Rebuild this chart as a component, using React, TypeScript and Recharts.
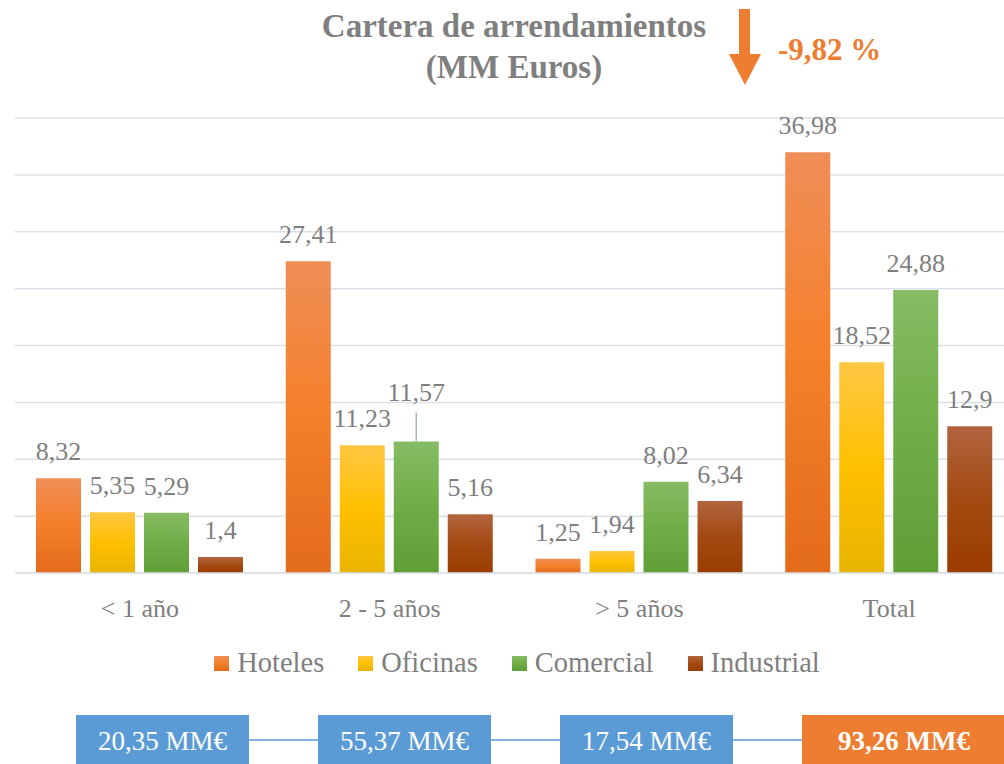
import React from 'react';
import { BarChart, Bar, XAxis, YAxis, CartesianGrid, Legend, LabelList } from 'recharts';

const FONT = "'Liberation Serif', serif";
const GREY = '#7F7F7F';

const categories = ['< 1 año', '2 - 5 años', '> 5 años', 'Total'];
const hoteles = [8.32, 27.41, 1.25, 36.98];
const oficinas = [5.35, 11.23, 1.94, 18.52];
const comercial = [5.29, 11.57, 8.02, 24.88];
const industrial = [1.4, 5.16, 6.34, 12.9];
const yTicks = [0, 5, 10, 15, 20, 25, 30, 35, 40];
const boxTotals = ['20,35 MM€', '55,37 MM€', '17,54 MM€', '93,26 MM€'];
const variation = '-9,82 %';

const series = [
  { key: 'Hoteles', values: hoteles, stops: ['#EF8E57', '#F57F29', '#E36B1C'] },
  { key: 'Oficinas', values: oficinas, stops: ['#FFC743', '#FFC000', '#E8B400'] },
  { key: 'Comercial', values: comercial, stops: ['#86BC64', '#70AD47', '#5F9F36'] },
  { key: 'Industrial', values: industrial, stops: ['#B2643F', '#A34A12', '#9B3C00'] },
];

const data = categories.map((name, i) => {
  const row: any = { name };
  series.forEach((s) => { row[s.key] = s.values[i]; });
  return row;
});

const fmt = (v: number) => String(v).replace('.', ',');

const makeLabel = (key: string) => (p: any) => {
  const vb = p.viewBox ?? p;
  const x = vb.x ?? p.x;
  const y = vb.y ?? p.y;
  const w = vb.width ?? p.width;
  const cx = x + w / 2;
  const raised = key === 'Comercial' && p.index === 1;
  return (
    <g>
      {raised && <line x1={cx} x2={cx} y1={y - 29} y2={y} stroke="#A9B6C6" strokeWidth={1.5} />}
      <text x={cx} y={raised ? y - 40 : y - 18} textAnchor="middle" fill={GREY} fontSize={26} fontFamily={FONT}>
        {fmt(p.value)}
      </text>
    </g>
  );
};

const renderLegend = () => (
  <div style={{ display: 'flex', justifyContent: 'center', alignItems: 'center', gap: 34, fontFamily: FONT }}>
    {series.map((s) => (
      <div key={s.key} style={{ display: 'flex', alignItems: 'center' }}>
        <span style={{ width: 15, height: 15, marginRight: 8, background: `linear-gradient(${s.stops[0]}, ${s.stops[1]}, ${s.stops[2]})` }} />
        <span style={{ fontSize: 28.5, lineHeight: '30px', color: GREY }}>{s.key}</span>
      </div>
    ))}
  </div>
);

export default function App() {
  const boxLeft = (i: number) => 76 + i * 242;
  return (
    <div style={{ position: 'fixed', left: 0, top: 0, width: 1004, height: 764, overflow: 'hidden', background: '#fff' }}>
      <div style={{ position: 'absolute', left: 0, top: 0 }}>
        <BarChart width={1040} height={700} data={data} margin={{ top: 118, right: 26, left: 15, bottom: 67 }} barGap={9} barSize={45}>
          <defs>
            {series.map((s) => (
              <linearGradient key={s.key} id={`grad${s.key}`} x1="0" y1="0" x2="0" y2="1">
                <stop offset="0%" stopColor={s.stops[0]} />
                <stop offset="50%" stopColor={s.stops[1]} />
                <stop offset="100%" stopColor={s.stops[2]} />
              </linearGradient>
            ))}
          </defs>
          <CartesianGrid vertical={false} stroke="#DCE0E6" strokeWidth={1.5} />
          <XAxis
            dataKey="name"
            height={60}
            axisLine={{ stroke: '#DCE0E6', strokeWidth: 1.5 }}
            tickLine={false}
            tickSize={0}
            tickMargin={0}
            interval={0}
            tick={(p: any) => (
              <text x={p.x} y={p.y + 44} textAnchor="middle" fill={GREY} fontSize={26} fontFamily={FONT}>
                {p.payload.value}
              </text>
            )}
          />
          <YAxis hide domain={[0, 40]} ticks={yTicks} />
          <Legend
            layout="horizontal"
            verticalAlign="middle"
            align="center"
            content={renderLegend}
            wrapperStyle={{ top: 648, left: 0, width: 1034 }}
          />
          {series.map((s) => (
            <Bar key={s.key} dataKey={s.key} fill={`url(#grad${s.key})`} isAnimationActive={false}>
              <LabelList dataKey={s.key} content={makeLabel(s.key)} />
            </Bar>
          ))}
        </BarChart>
      </div>

      <svg width={1004} height={764} style={{ position: 'absolute', left: 0, top: 0, pointerEvents: 'none' }}>
        <text x={514} y={37} textAnchor="middle" fill={GREY} fontSize={33} fontWeight="bold" fontFamily={FONT}>
          Cartera de arrendamientos
        </text>
        <text x={514} y={78} textAnchor="middle" fill={GREY} fontSize={33} fontWeight="bold" fontFamily={FONT}>
          (MM Euros)
        </text>
        <rect x={739} y={9} width={11} height={46} fill="#ED7D31" />
        <polygon points="729,54 761,54 745,85" fill="#ED7D31" />
        <text x={778} y={60} fill="#ED7D31" fontSize={31} fontWeight="bold" fontFamily={FONT}>
          {variation}
        </text>
        {boxTotals.slice(0, -1).map((_, i) => (
          <line key={i} x1={boxLeft(i) + 173} x2={boxLeft(i + 1)} y1={740} y2={740} stroke="#5B9BD5" strokeWidth={1.5} />
        ))}
      </svg>

      {boxTotals.map((t, i) => {
        const last = i === boxTotals.length - 1;
        return (
          <div
            key={t}
            style={{
              position: 'absolute',
              left: boxLeft(i),
              top: 715,
              width: last ? 204 : 173,
              height: 52,
              background: last ? '#ED7D31' : '#5B9BD5',
              color: '#fff',
              fontFamily: FONT,
              fontSize: 27,
              fontWeight: last ? 'bold' : 'normal',
              display: 'flex',
              alignItems: 'center',
              justifyContent: 'center',
              lineHeight: '30px',
            }}
          >
            {t}
          </div>
        );
      })}
    </div>
  );
}
